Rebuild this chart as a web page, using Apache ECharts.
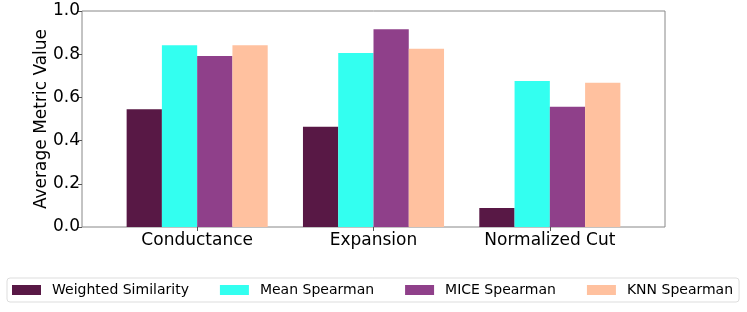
<!DOCTYPE html>
<html>
<head>
<meta charset="utf-8">
<script src="https://cdn.jsdelivr.net/npm/echarts@6/dist/echarts.min.js"></script>
<style>html,body{margin:0;padding:0;background:#fff}#c{width:747px;height:312px}</style>
</head>
<body>
<div id="c"></div>
<script>
const categories = ["Conductance", "Expansion", "Normalized Cut"];
const seriesNames = ["Weighted Similarity", "Mean Spearman", "MICE Spearman", "KNN Spearman"];
const weightedSimilarity = [0.545, 0.464, 0.088];
const meanSpearman = [0.842, 0.806, 0.676];
const miceSpearman = [0.792, 0.915, 0.557];
const knnSpearman = [0.842, 0.825, 0.668];
const yTicks = [0.0, 0.2, 0.4, 0.6, 0.8, 1.0];

const colors = ["#581845", "#33FFF0", "#8F408A", "#FFC19F"];
const values = [weightedSimilarity, meanSpearman, miceSpearman, knnSpearman];
const font = "DejaVu Sans";

const chart = echarts.init(document.getElementById('c'), null, {renderer: 'canvas'});
chart.setOption({
  animation: false,
  textStyle: {fontFamily: font},
  grid: [
    {left: 82, right: 82, top: 11, bottom: 85, show: true, borderColor: '#888', borderWidth: 1, backgroundColor: 'transparent'},
    {left: 109, right: 109, top: 11, bottom: 85}
  ],
  xAxis: [
    {gridIndex: 0, type: 'category', data: categories, show: false},
    {gridIndex: 1, type: 'category', data: categories,
     axisLine: {show: false},
     axisTick: {show: true, alignWithLabel: true, length: 4, lineStyle: {color: '#555'}},
     axisLabel: {fontSize: 17, color: '#000', margin: 5, fontFamily: font}}
  ],
  yAxis: [
    {gridIndex: 0, type: 'value', min: yTicks[0], max: yTicks[yTicks.length - 1], interval: 0.2,
     axisLine: {show: false}, splitLine: {show: false},
     axisTick: {show: true, length: 4, lineStyle: {color: '#555'}},
     axisLabel: {fontSize: 17, color: '#000', margin: 2, fontFamily: font, formatter: v => v.toFixed(1)},
     name: 'Average Metric Value', nameLocation: 'middle', nameGap: 32, nameMoveOverlap: false,
     nameTextStyle: {fontSize: 17, color: '#000', fontFamily: font}},
    {gridIndex: 1, type: 'value', min: yTicks[0], max: yTicks[yTicks.length - 1], show: false}
  ],
  legend: {
    data: seriesNames,
    left: 7, top: 278,
    itemWidth: 29, itemHeight: 10, itemGap: 31,
    padding: [5, 6, 5, 5],
    borderColor: '#ddd', borderWidth: 1, borderRadius: 3,
    icon: 'rect',
    textStyle: {fontSize: 14, color: '#000', fontFamily: font, padding: [0, 0, 0, 6]}
  },
  series: seriesNames.map((n, i) => ({
    name: n, type: 'bar', xAxisIndex: 1, yAxisIndex: 1,
    data: values[i],
    barGap: '0%', barCategoryGap: '20%',
    itemStyle: {color: colors[i]}
  }))
});
</script>
</body>
</html>
